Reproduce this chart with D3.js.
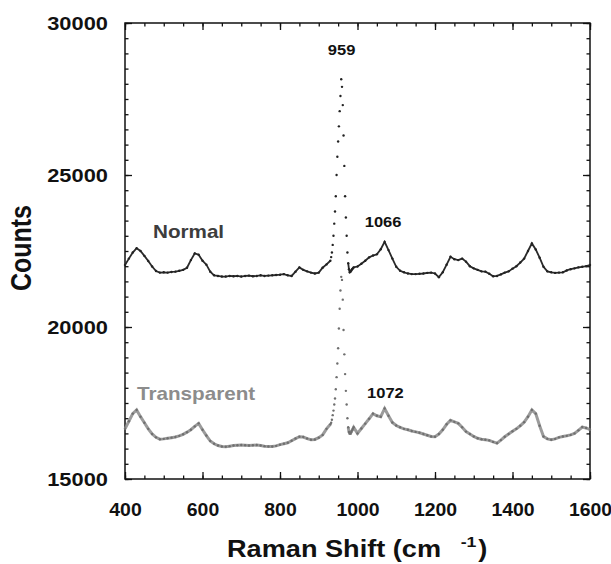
<!doctype html>
<html>
  <head>
    <script src="https://cdn.jsdelivr.net/npm/d3@7/dist/d3.min.js"></script>
    <style>
      body { margin: 0; background: #fff; }
      text { font-family: "Liberation Sans", Arial, sans-serif; font-weight: bold; }
    </style>
  </head>
  <body>
    <svg id="chart" width="611" height="564"></svg>

    <script>
      // Raman shift grid: coarse 10 cm-1 steps, finer 2 cm-1 steps across the 959 band
      var shiftLow  = d3.range(400, 931, 10);   // 400 .. 930
      var shiftPeak = d3.range(932, 991, 2);    // 932 .. 990
      var shiftHigh = d3.range(1000, 1601, 10); // 1000 .. 1600

      // counts, Normal enamel
      var normalLow = [22040, 22250, 22450, 22590, 22500, 22340, 22170, 21990, 21840, 21790,
                       21800, 21790, 21810, 21820, 21850, 21880, 21950, 22200, 22420, 22380,
                       22180, 22050, 21820, 21700, 21680, 21660, 21660, 21680, 21670, 21680,
                       21660, 21680, 21690, 21670, 21680, 21700, 21680, 21690, 21700, 21710,
                       21720, 21740, 21700, 21680, 21820, 21960, 21880, 21830, 21790, 21760,
                       21790, 21950, 22060, 22180];
      var normalPeak = [22300, 22450, 22700, 23000, 23400, 23800, 24300, 25000, 25600, 26100,
                        26600, 27100, 27600, 28150, 27900, 27300, 26300, 25300, 24300, 23600,
                        23000, 22450, 22100, 21900, 21800, 21820, 21860, 21900, 21930, 21960];
      var normalHigh = [21990, 22080, 22180, 22290, 22350, 22390, 22560, 22800, 22530, 22250,
                        21980, 21850, 21800, 21760, 21740, 21740, 21750, 21760, 21780, 21790,
                        21760, 21640, 21800, 22050, 22310, 22230, 22200, 22250, 22150, 22000,
                        21930, 21880, 21830, 21820, 21750, 21670, 21680, 21730, 21790, 21830,
                        21920, 22000, 22120, 22250, 22500, 22750, 22550, 22280, 21980, 21830,
                        21800, 21780, 21790, 21800, 21860, 21900, 21930, 21960, 21980, 22000,
                        22040];

      // counts, Transparent enamel
      var transLow = [16650, 16900, 17150, 17270, 17050, 16850, 16650, 16480, 16370, 16310,
                      16320, 16340, 16360, 16380, 16420, 16470, 16540, 16620, 16730, 16830,
                      16620, 16430, 16250, 16160, 16100, 16070, 16060, 16080, 16100, 16110,
                      16120, 16110, 16100, 16110, 16120, 16100, 16080, 16070, 16070, 16090,
                      16130, 16160, 16190, 16260, 16330, 16390, 16380, 16330, 16290, 16300,
                      16360, 16450, 16650, 16800];
      var transPeak = [16850, 16950, 17100, 17250, 17450, 17650, 17950, 18350, 18800, 19300,
                       19950, 20600, 21200, 21650, 21550, 20900, 19900, 19100, 18450, 17900,
                       17450, 17000, 16700, 16550, 16500, 16500, 16550, 16600, 16650, 16700];
      var transHigh = [16500, 16660, 16820, 16980, 17150, 17080, 17050, 17320, 17080, 16860,
                       16760, 16700, 16650, 16620, 16580, 16550, 16520, 16480, 16440, 16400,
                       16390, 16480, 16620, 16800, 16930, 16880, 16830, 16700, 16560, 16480,
                       16400, 16340, 16310, 16290, 16270, 16220, 16180, 16280, 16390, 16480,
                       16570, 16650, 16750, 16870, 17050, 17270, 17150, 16750, 16400, 16320,
                       16290, 16320, 16370, 16400, 16420, 16450, 16500, 16600, 16710, 16680,
                       16620];

      var xTicks = [400, 600, 800, 1000, 1200, 1400, 1600];
      var yTicks = [15000, 20000, 25000, 30000];
      var peakLabels = [
        {text: "959",  x: 959,  y: 28950},
        {text: "1066", x: 1066, y: 23300},
        {text: "1072", x: 1072, y: 17650}
      ];

      function zip(xs, ys) {
        return xs.map(function(x, i) { return {x: x, y: ys[i]}; });
      }
      var normal = zip(shiftLow, normalLow).concat(zip(shiftPeak, normalPeak), zip(shiftHigh, normalHigh));
      var transparent = zip(shiftLow, transLow).concat(zip(shiftPeak, transPeak), zip(shiftHigh, transHigh));

      var margin = {top: 23, right: 21, bottom: 85, left: 125};
      var width = 611 - margin.left - margin.right;
      var height = 564 - margin.top - margin.bottom;
      var stretch = "scale(1.18,1)"; // glyphs in the picture are a bit wide

      var svg = d3.select("#chart");
      var g = svg.append("g").attr("transform", "translate(" + margin.left + "," + margin.top + ")");

      var x = d3.scaleLinear().domain([400, 1600]).range([0, width]);
      var y = d3.scaleLinear().domain([15000, 30000]).range([height, 0]);

      var xMinor = d3.range(400, 1601, 50);
      var yMinor = d3.range(15000, 30001, 500);

      function axisStyle(sel) {
        sel.select(".domain").remove();
        sel.selectAll("line").attr("stroke", "#111").attr("stroke-width", 1.3);
      }

      // minor ticks on all four sides
      g.append("g").attr("transform", "translate(0," + height + ")")
        .call(d3.axisBottom(x).tickValues(xMinor).tickSize(-3.5).tickFormat("")).call(axisStyle);
      g.append("g")
        .call(d3.axisTop(x).tickValues(xMinor).tickSize(-3.5).tickFormat("")).call(axisStyle);
      g.append("g")
        .call(d3.axisLeft(y).tickValues(yMinor).tickSize(-3.5).tickFormat("")).call(axisStyle);
      g.append("g").attr("transform", "translate(" + width + ",0)")
        .call(d3.axisRight(y).tickValues(yMinor).tickSize(-3.5).tickFormat("")).call(axisStyle);

      // major ticks
      var xAxis = g.append("g").attr("transform", "translate(0," + height + ")")
        .call(d3.axisBottom(x).tickValues(xTicks).tickSize(-7).tickPadding(0).tickFormat(d3.format("d")))
        .call(axisStyle);
      xAxis.selectAll("text")
        .attr("y", 37).attr("dy", null)
        .attr("transform", "scale(1.08,1)")
        .style("font-size", "18px").attr("fill", "#111");

      g.append("g")
        .call(d3.axisTop(x).tickValues(xTicks).tickSize(-7).tickFormat("")).call(axisStyle);

      var yAxis = g.append("g")
        .call(d3.axisLeft(y).tickValues(yTicks).tickSize(-7).tickFormat(d3.format("d")))
        .call(axisStyle);
      yAxis.selectAll("text")
        .attr("x", -14.5).attr("dy", "0.36em")
        .attr("transform", stretch)
        .style("font-size", "18.5px").attr("fill", "#111");

      g.append("g").attr("transform", "translate(" + width + ",0)")
        .call(d3.axisRight(y).tickValues(yTicks).tickSize(-7).tickFormat("")).call(axisStyle);

      // frame
      g.append("rect")
        .attr("width", width).attr("height", height)
        .attr("fill", "none").attr("stroke", "#111").attr("stroke-width", 1.5);

      // spectra: line through the dense parts, bare dots across the strong band
      var line = d3.line()
        .defined(function(d) { return d.x <= 930 || d.x >= 976; })
        .x(function(d) { return x(d.x); })
        .y(function(d) { return y(d.y); });

      g.append("path").datum(transparent)
        .attr("d", line).attr("fill", "none")
        .attr("stroke", "#8a8a8a").attr("stroke-width", 3).attr("stroke-opacity", 0.85);
      g.append("g").selectAll("circle").data(transparent).enter().append("circle")
        .attr("cx", function(d) { return x(d.x); })
        .attr("cy", function(d) { return y(d.y); })
        .attr("r", 1.2).attr("fill", "#6f6f6f");

      g.append("path").datum(normal)
        .attr("d", line).attr("fill", "none")
        .attr("stroke", "#2a2a2a").attr("stroke-width", 1.8);
      g.append("g").selectAll("circle").data(normal).enter().append("circle")
        .attr("cx", function(d) { return x(d.x); })
        .attr("cy", function(d) { return y(d.y); })
        .attr("r", 1.2).attr("fill", "#222");

      // peak position labels
      g.selectAll(".peak").data(peakLabels).enter().append("text")
        .attr("class", "peak")
        .attr("transform", function(d) { return "translate(" + x(d.x) + "," + y(d.y) + ") " + stretch; })
        .attr("text-anchor", "middle")
        .style("font-size", "14px").attr("fill", "#111")
        .text(function(d) { return d.text; });

      // series names
      g.append("text")
        .attr("transform", "translate(" + (153 - margin.left) + "," + (238 - margin.top) + ") " + stretch)
        .style("font-size", "17.5px").attr("fill", "#3d3d3d").text("Normal");
      g.append("text")
        .attr("transform", "translate(" + (137 - margin.left) + "," + (400 - margin.top) + ") " + stretch)
        .style("font-size", "17.5px").attr("fill", "#8c8c8c").text("Transparent");

      // axis titles
      svg.append("text")
        .attr("transform", "translate(31,248) rotate(-90) scale(1,1.18)")
        .attr("text-anchor", "middle")
        .style("font-size", "25px").attr("fill", "#111").text("Counts");

      var title = svg.append("g").attr("transform", "translate(227,557) " + stretch);
      title.append("text").style("font-size", "23px").attr("fill", "#111").text("Raman Shift (cm");
      title.append("text").attr("x", 198).attr("y", -10)
        .style("font-size", "15px").attr("fill", "#111").text("-1");
      title.append("text").attr("x", 213)
        .style("font-size", "23px").attr("fill", "#111").text(")");
    </script>
  </body>
</html>
